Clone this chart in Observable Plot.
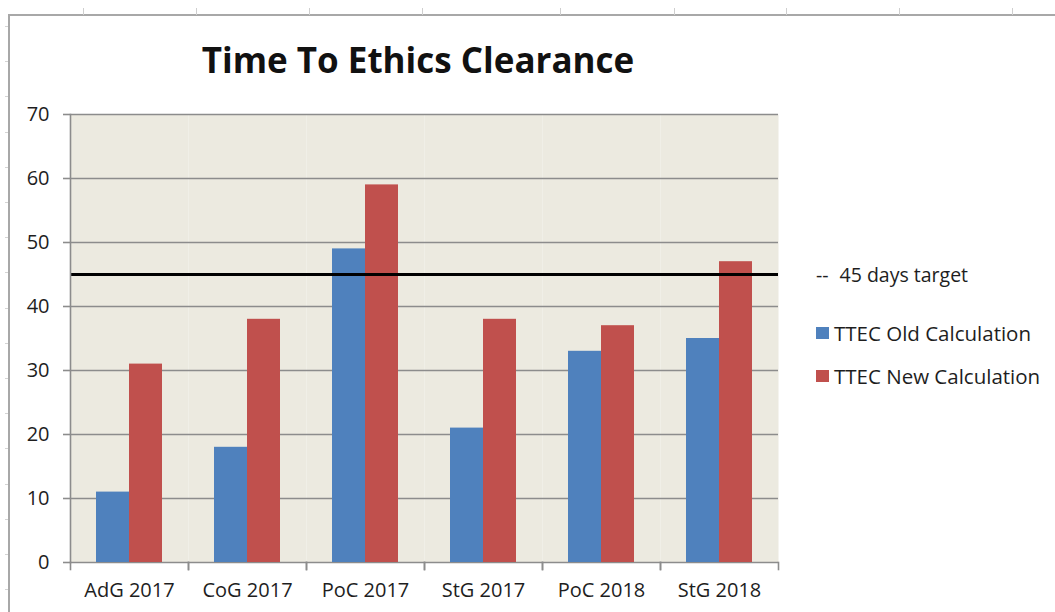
<!DOCTYPE html>
<html>
<head>
<meta charset="utf-8">
<script src="https://cdn.jsdelivr.net/npm/d3@7"></script>
<script src="https://cdn.jsdelivr.net/npm/@observablehq/plot@0.6"></script>
<style>
  html, body { margin: 0; padding: 0; background: #fff; }
  #wrap { position: relative; width: 1055px; height: 612px; overflow: hidden; font-family: "Open Sans", sans-serif; color: #1e1e1e; }
  #sheet { position: absolute; left: 8px; top: 14px; width: 1200px; height: 800px; border-left: 2px solid #a8a8a8; border-top: 2px solid #a8a8a8; }
  .cm { position: absolute; top: 8px; width: 1px; height: 7px; background: #cfcfcf; }
  .rm { position: absolute; left: 5px; width: 3px; height: 1px; background: #d4d4d4; }
  #chart { position: absolute; left: 0; top: 0; }
  #title { position: absolute; left: 0; width: 836px; top: 42px; text-align: center; font-weight: 700; font-size: 35px; line-height: 1; color: #111; }
  .lg { position: absolute; left: 816px; height: 24px; line-height: 24px; font-size: 20.5px; white-space: nowrap; display: flex; align-items: center; }
  .sw { display: inline-block; width: 13px; height: 12px; margin-right: 5px; }
</style>
</head>
<body>
<div id="wrap">
  <div id="sheet"></div>
  <div id="chart"></div>
  <div id="title"></div>
  <div id="legend"></div>
</div>
<script>
// ---- data ----
const categories = ["AdG 2017", "CoG 2017", "PoC 2017", "StG 2017", "PoC 2018", "StG 2018"];
const oldCalc = [11, 18, 49, 21, 33, 35];
const newCalc = [31, 38, 59, 38, 37, 47];
const seriesNames = ["TTEC Old Calculation", "TTEC New Calculation"];
const seriesColors = ["#4F81BD", "#C0504D"];
const targetDays = 45;
const targetLabel = "45 days target";
const yTicks = [0, 10, 20, 30, 40, 50, 60, 70];
const titleText = "Time To Ethics Clearance";

// ---- decorative spreadsheet marks ----
const wrap = document.getElementById("wrap");
[83, 196, 309, 422, 560, 674, 786, 899, 1012].forEach(x => {
  const d = document.createElement("div"); d.className = "cm"; d.style.left = x + "px"; wrap.appendChild(d);
});
for (let k = 0; k < 18; k++) {
  const d = document.createElement("div"); d.className = "rm"; d.style.top = Math.round(26 + 35.2 * k) + "px"; wrap.appendChild(d);
}

// ---- table ----
const rows = categories.flatMap((c, i) => [
  {category: c, series: seriesNames[0], value: oldCalc[i]},
  {category: c, series: seriesNames[1], value: newCalc[i]}
]);

const grid = "#8c8c8c";
const chart = Plot.plot({
  width: 800,
  height: 612,
  marginTop: 114,
  marginBottom: 50,
  marginLeft: 69,
  marginRight: 21,
  style: {fontFamily: "Open Sans, sans-serif", fontSize: "20px", color: "#1e1e1e", background: "transparent", overflow: "visible"},
  fx: {domain: categories, padding: 0, label: null, axis: null},
  x: {domain: seriesNames, paddingInner: 0, paddingOuter: 0.77, axis: null},
  y: {domain: [0, 70], axis: null},
  color: {domain: seriesNames, range: seriesColors},
  marks: [
    Plot.frame({fill: "#ECEAE0", stroke: "none"}),
    Plot.gridY(yTicks, {stroke: grid, strokeOpacity: 1, strokeWidth: 1.6}),
    Plot.barY(rows, {fx: "category", x: "series", y: "value", fill: "series"}),
    Plot.ruleY([targetDays], {stroke: "#000", strokeWidth: 3}),
    Plot.frame({anchor: "left", facet: "super", stroke: grid, strokeWidth: 1.6}),
    Plot.frame({anchor: "left", stroke: grid, strokeWidth: 1.6, insetTop: 448, insetBottom: -7}),
    Plot.frame({anchor: "right", stroke: grid, strokeWidth: 1.6, insetTop: 448, insetBottom: -7}),
    Plot.axisY(yTicks, {tickSize: 7, tickPadding: 14, stroke: grid, strokeWidth: 1.6, fill: "#1e1e1e", fontSize: 20, label: null}),
    Plot.axisFx({anchor: "bottom", tickSize: 0, tickPadding: 20, label: null, fontSize: 20, fill: "#1e1e1e"})
  ]
});
document.getElementById("chart").appendChild(chart);

// ---- title & legend ----
document.getElementById("title").textContent = titleText;
const legend = document.getElementById("legend");
const t = document.createElement("div");
t.className = "lg"; t.style.top = (275 - 12) + "px";
t.innerHTML = `<span style="margin-right:11px">--</span><span></span>`;
t.lastChild.textContent = targetLabel;
t.style.fontSize = "19.5px";
legend.appendChild(t);
seriesNames.forEach((s, i) => {
  const d = document.createElement("div");
  d.className = "lg"; d.style.top = ([333, 376][i] - 12) + "px";
  const sw = document.createElement("span"); sw.className = "sw"; sw.style.background = seriesColors[i];
  const tx = document.createElement("span"); tx.textContent = s;
  d.appendChild(sw); d.appendChild(tx); legend.appendChild(d);
});
</script>
</body>
</html>
